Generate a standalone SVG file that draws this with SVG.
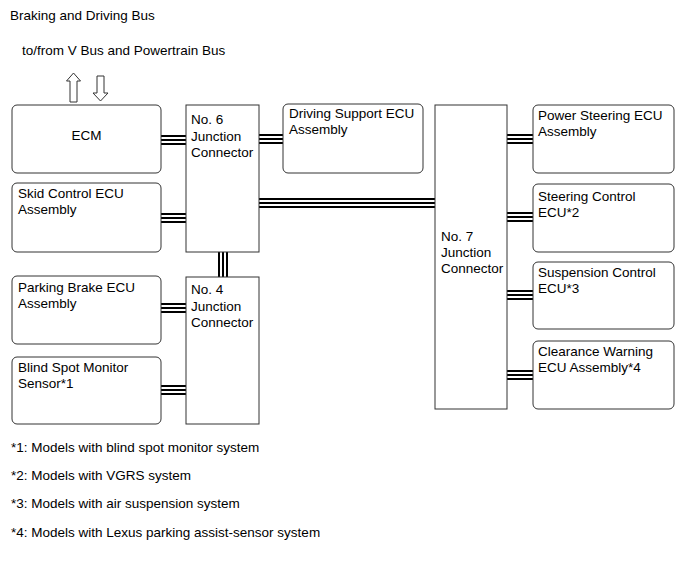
<svg xmlns="http://www.w3.org/2000/svg" width="689" height="562" viewBox="0 0 689 562">
<style>
text{font-family:"Liberation Sans",Arial,sans-serif;font-size:13.5px;fill:#000}
.box{fill:#fff;stroke:#333;stroke-width:1}
.bus{stroke:#000;stroke-width:2;fill:none}
.arr{fill:#fff;stroke:#333;stroke-width:1}
</style>
<rect width="689" height="562" fill="#fff"/>
<text x="10" y="20">Braking and Driving Bus</text>
<text x="22" y="54.5">to/from V Bus and Powertrain Bus</text>
<path class="arr" d="M73.5,73 L80.5,81 L77,81 L77,102 L70,102 L70,81 L66.5,81 Z"/>
<path class="arr" d="M97,76 L104,76 L104,93 L108,93 L100.5,101 L93,93 L97,93 Z"/>
<g id="connectors">
<path class="bus" d="M161,136H186M161,140H186M161,144H186"/>
<path class="bus" d="M161,214H186M161,218H186M161,222H186"/>
<path class="bus" d="M161,304H186M161,308H186M161,312H186"/>
<path class="bus" d="M161,386H186M161,390H186M161,394H186"/>
<path class="bus" d="M219,252V277M223,252V277M227,252V277"/>
<path class="bus" d="M259,135H283M259,139H283M259,143H283"/>
<path class="bus" d="M259,199H435M259,203H435M259,207H435"/>
<path class="bus" d="M507,135H533M507,139H533M507,143H533"/>
<path class="bus" d="M507,213H533M507,217H533M507,221H533"/>
<path class="bus" d="M507,291H533M507,295H533M507,299H533"/>
<path class="bus" d="M507,371H533M507,375H533M507,379H533"/>
</g>
<g id="ecm"><rect class="box" x="12" y="105" width="149" height="68" rx="5"/><text x="86.5" y="140" text-anchor="middle">ECM</text></g>
<g id="skid"><rect class="box" x="12" y="183" width="149" height="69" rx="5"/><text x="18" y="198">Skid Control ECU</text><text x="18" y="214">Assembly</text></g>
<g id="parking"><rect class="box" x="12" y="276" width="149" height="68" rx="5"/><text x="18" y="292">Parking Brake ECU</text><text x="18" y="308">Assembly</text></g>
<g id="blind"><rect class="box" x="12" y="357" width="149" height="67" rx="5"/><text x="18" y="372">Blind Spot Monitor</text><text x="18" y="388">Sensor*1</text></g>
<g id="j6"><rect class="box" x="186" y="105" width="73" height="147"/><text x="191" y="124">No. 6</text><text x="191" y="141">Junction</text><text x="191" y="157">Connector</text></g>
<g id="j4"><rect class="box" x="186" y="277" width="73" height="147"/><text x="191" y="294">No. 4</text><text x="191" y="311">Junction</text><text x="191" y="327">Connector</text></g>
<g id="driving"><rect class="box" x="283" y="104" width="140" height="69" rx="5"/><text x="289" y="118">Driving Support ECU</text><text x="289" y="134">Assembly</text></g>
<g id="j7"><rect class="box" x="435" y="105" width="72" height="304"/><text x="441" y="241">No. 7</text><text x="441" y="257">Junction</text><text x="441" y="273">Connector</text></g>
<g id="power"><rect class="box" x="533" y="105" width="141" height="68" rx="5"/><text x="538" y="120">Power Steering ECU</text><text x="538" y="136">Assembly</text></g>
<g id="steering"><rect class="box" x="533" y="184" width="141" height="68" rx="5"/><text x="538" y="201">Steering Control</text><text x="538" y="217">ECU*2</text></g>
<g id="suspension"><rect class="box" x="533" y="262" width="141" height="67" rx="5"/><text x="538" y="277">Suspension Control</text><text x="538" y="293">ECU*3</text></g>
<g id="clearance"><rect class="box" x="533" y="341" width="141" height="68" rx="5"/><text x="538" y="356">Clearance Warning</text><text x="538" y="372">ECU Assembly*4</text></g>
<text x="11" y="452">*1: Models with blind spot monitor system</text>
<text x="11" y="480">*2: Models with VGRS system</text>
<text x="11" y="508">*3: Models with air suspension system</text>
<text x="11" y="537">*4: Models with Lexus parking assist-sensor system</text>
</svg>
